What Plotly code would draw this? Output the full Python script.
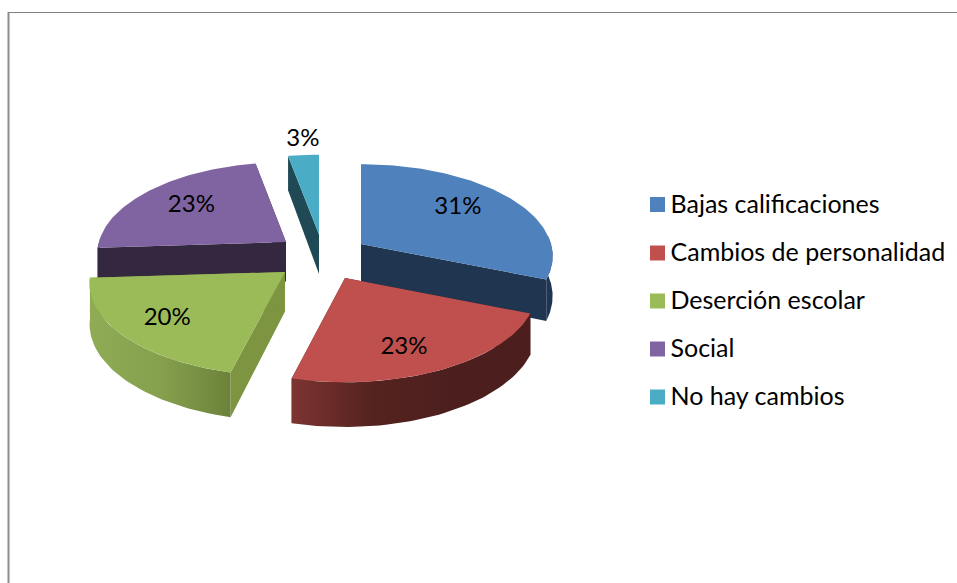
import numpy as np
import plotly.graph_objects as go

# datos
categories = ['Bajas calificaciones', 'Cambios de personalidad', 'Deserción escolar', 'Social', 'No hay cambios']
values = [31, 23, 20, 23, 3]

colors = ['#4F81BD', '#C0504D', '#9BBB59', '#8064A2', '#4BACC6']
wall_colors = ['#1F3550', '#4C1F1E', '#7D9441', '#33283F', '#1F4955']
arc_gradients = [
    ['#1F3550', '#1F3550'],
    ['#7C3431', '#55231F', '#4C1F1E', '#4C1F1E'],
    ['#8FAC55', '#86A04E', '#6C823A'],
    ['#33283F', '#33283F'],
    ['#1F4955', '#1F4955'],
]

# vertice de cada porcion separada, en pixeles de la ventana
apex_x = [361, 345, 285, 286, 319]
apex_y = [244, 278, 272, 242, 234.5]
rx_scale = [1, 1, 1.02, 0.985, 1]

# pseudo perspectiva del pastel
RX, RY, DEPTH, PERSP = 190, 92, 39.5, 0.133

# etiqueta: ajuste de angulo respecto al centro de la porcion y radio
label_delta = [-4.9, 4.2, 0.8, 1.5, 0.8]
label_r = [0.698, 0.735, 0.735, 0.694, 1.27]
LABEL_DY = 2.5

# leyenda a mano, cuadro y texto
legend_x = 657.5
legend_text_x = 670.5
legend_y = [204.5, 253, 301, 349, 397]
LEGEND_DY = 2

FONT = 'Lato'
LABEL_SIZE = 24
LEGEND_SIZE = 25

WIDTH, HEIGHT = 957, 583


def project(i, theta, r=1.0, down=0.0):
    u = np.sin(np.radians(theta)) * r
    v = -np.cos(np.radians(theta)) * r
    s = 1 + PERSP * v
    return apex_x[i] + RX * rx_scale[i] * u * s, apex_y[i] + RY * v * s + down * DEPTH * s


def poly(xs, ys, color, **kw):
    return go.Scatter(x=list(xs), y=list(ys), mode='lines', fill='toself', fillcolor=color,
                      line=dict(width=0), hoverinfo='skip', showlegend=False, **kw)


total = sum(values)
ends = np.cumsum(values) / total * 360
starts = ends - np.array(values) / total * 360

fig = go.Figure()

# de atras hacia adelante
for i in [4, 3, 0, 2, 1]:
    t0, t1 = starts[i], ends[i]
    for t in (t0, t1):
        ax, ay = project(i, t, 0)
        ex, ey = project(i, t)
        bx, by = project(i, t, 0, 1)
        fx, fy = project(i, t, 1, 1)
        fig.add_trace(poly([ax, ex, fx, bx, ax], [ay, ey, fy, by, ay], wall_colors[i]))

    # pared exterior, solo la parte que mira al frente
    a0, a1 = max(t0, 85), min(t1, 272)
    if a1 > a0:
        th = np.linspace(a0, a1, 50)
        tx, ty = project(i, th)
        dx, dy = project(i, th, 1, 1)
        px = np.r_[tx, dx[::-1], tx[0]]
        py = np.r_[ty, dy[::-1], ty[0]]
        stops = arc_gradients[i]
        scale = [[k / (len(stops) - 1), c] for k, c in enumerate(stops)]
        fig.add_trace(go.Scatter(x=px, y=py, mode='lines', fill='toself', line=dict(width=0),
                                 fillgradient=dict(type='horizontal', colorscale=scale,
                                                   start=float(px.min()), stop=float(px.max())),
                                 hoverinfo='skip', showlegend=False))

    # cara superior
    th = np.linspace(t0, t1, 80)
    tx, ty = project(i, th)
    fig.add_trace(poly(np.r_[apex_x[i], tx, apex_x[i]], np.r_[apex_y[i], ty, apex_y[i]], colors[i]))

# etiquetas de porcentaje
for i, val in enumerate(values):
    mid = (starts[i] + ends[i]) / 2 + label_delta[i]
    lx, ly = project(i, mid, label_r[i])
    fig.add_trace(go.Scatter(x=[lx], y=[ly + LABEL_DY], mode='text', text=[f'{val}%'],
                             textfont=dict(family=FONT, size=LABEL_SIZE, color='black'),
                             hoverinfo='skip', showlegend=False))

# leyenda
for i, cat in enumerate(categories):
    fig.add_trace(go.Scatter(x=[legend_x], y=[legend_y[i]], mode='markers', name=cat,
                             marker=dict(symbol='square', size=15, color=colors[i]),
                             hoverinfo='skip', showlegend=False))
    fig.add_trace(go.Scatter(x=[legend_text_x], y=[legend_y[i] + LEGEND_DY], mode='text',
                             text=[cat], textposition='middle right',
                             textfont=dict(family=FONT, size=LEGEND_SIZE, color='black'),
                             hoverinfo='skip', showlegend=False, cliponaxis=False))

fig.update_xaxes(range=[0, WIDTH], visible=False, fixedrange=True)
fig.update_yaxes(range=[HEIGHT, 0], visible=False, fixedrange=True)

fig.update_layout(
    width=WIDTH, height=HEIGHT,
    margin=dict(l=0, r=0, t=0, b=0),
    paper_bgcolor='white', plot_bgcolor='white',
    showlegend=False,
    font=dict(family=FONT, size=LEGEND_SIZE, color='black'),
)

# marco del area del grafico
fig.add_shape(type='line', x0=8.5, x1=8.5, y0=12, y1=HEIGHT, line=dict(color='#8C8C8C', width=2))
fig.add_shape(type='line', x0=8.5, x1=WIDTH, y0=12.5, y1=12.5, line=dict(color='#808080', width=1))

# sin margen del body, la ventana mide lo mismo que la figura
fig.write_html("out.html", default_width=f"{WIDTH}px", default_height=f"{HEIGHT}px",
               config={'displayModeBar': False},
               post_script="document.body.style.margin='0';document.documentElement.style.overflow='hidden';")
